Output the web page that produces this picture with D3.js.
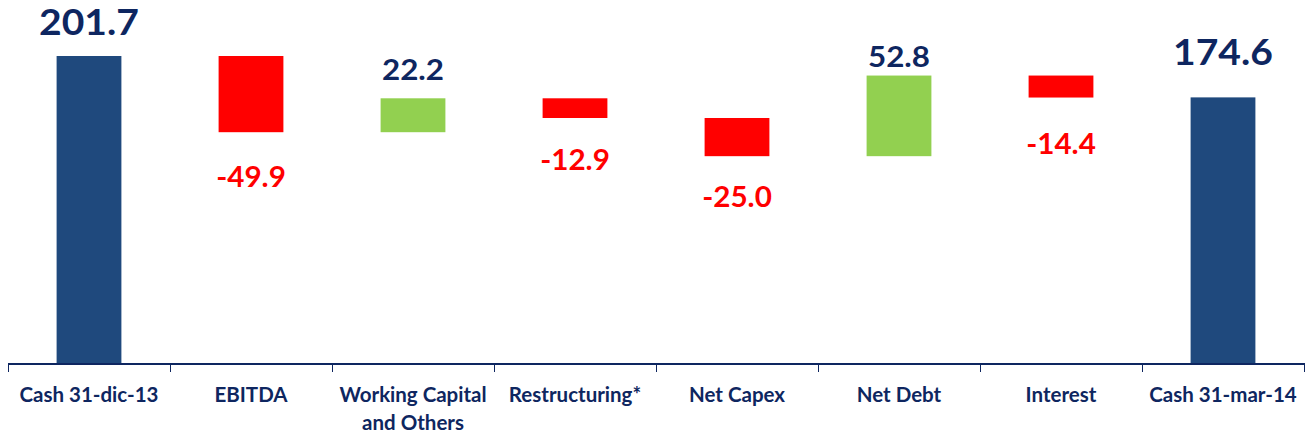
<!DOCTYPE html>
<html>
<head>
<meta charset="utf-8">
<script src="https://cdn.jsdelivr.net/npm/d3@7"></script>
<style>
  body { margin: 0; background: #fff; }
  text { font-family: Lato, "Open Sans", sans-serif; font-weight: bold; }
</style>
</head>
<body>
<div id="chart"></div>
<script>
var categories = ["Cash 31-dic-13", "EBITDA", "Working Capital\nand Others", "Restructuring*", "Net Capex", "Net Debt", "Interest", "Cash 31-mar-14"];
var values = [201.7, -49.9, 22.2, -12.9, -25.0, 52.8, -14.4, 174.6];
var kinds = ["total", "delta", "delta", "delta", "delta", "delta", "delta", "total"];

// layout: gap between bar edge and its value label (px)
var labelGap = [21, 55, 18, 52, 51, 9, 56, 32];

var width = 1305, height = 438;
var navy = "#0e2660";

// build waterfall steps
var running = 0;
var steps = values.map(function (v, i) {
    var s;
    if (kinds[i] === "total") {
        s = { start: 0, end: v };
        running = v;
    } else {
        s = { start: running, end: running + v };
        running += v;
    }
    s.value = v;
    s.kind = kinds[i];
    s.cat = categories[i];
    s.gap = labelGap[i];
    return s;
});

var svg = d3.select("#chart").append("svg").attr("width", width).attr("height", height);

var x = d3.scaleBand().domain(categories).range([8, 1304]).paddingInner(0.6).paddingOuter(0.3);
var y = d3.scaleLinear().domain([0, 201.7]).range([364, 56]);

function fillFor(d) {
    if (d.kind === "total") return "#1f497d";
    return d.value < 0 ? "#ff0000" : "#92d050";
}

// bars
svg.selectAll("rect.bar").data(steps).enter().append("rect")
    .attr("class", "bar")
    .attr("x", function (d) { return x(d.cat); })
    .attr("width", x.bandwidth())
    .attr("y", function (d) { return y(Math.max(d.start, d.end)); })
    .attr("height", function (d) { return Math.abs(y(d.start) - y(d.end)); })
    .attr("fill", fillFor);

// value labels (stretched a bit horizontally like the original font)
svg.selectAll("text.val").data(steps).enter().append("text")
    .attr("class", "val")
    .attr("transform", function (d) {
        var cx = x(d.cat) + x.bandwidth() / 2;
        var by = d.value < 0 ? y(d.end) + d.gap : y(d.end) - d.gap;
        var sx = d.kind === "total" ? 1.1 : (d.value < 0 ? 1.04 : 1.1);
        return "translate(" + cx + "," + by + ") scale(" + sx + ",1)";
    })
    .attr("text-anchor", "middle")
    .attr("font-size", function (d) { return d.kind === "total" ? 35.5 : 28.5; })
    .attr("fill", function (d) { return d.value < 0 ? "#ff0000" : navy; })
    .text(function (d) { return d.value.toFixed(1); });

// x axis with ticks at category boundaries
svg.append("line")
    .attr("x1", 8).attr("x2", 1305).attr("y1", 364).attr("y2", 364)
    .attr("stroke", navy).attr("stroke-width", 2);

var bounds = categories.map(function (c) { return x(c) - x.step() * x.paddingInner() / 2; });
bounds.push(x.range()[1]);
svg.selectAll("line.tick").data(bounds).enter().append("line")
    .attr("class", "tick")
    .attr("x1", function (d) { return Math.round(d) + 0.5; })
    .attr("x2", function (d) { return Math.round(d) + 0.5; })
    .attr("y1", 364).attr("y2", 372)
    .attr("stroke", navy).attr("stroke-width", 1);

// category labels
var cl = svg.selectAll("text.cat").data(categories).enter().append("text")
    .attr("class", "cat")
    .attr("transform", function (d) {
        return "translate(" + (x(d) + x.bandwidth() / 2) + ",402) scale(1.0,1)";
    })
    .attr("text-anchor", "middle")
    .attr("font-size", 20.5)
    .attr("fill", navy);
cl.each(function (d) {
    var t = d3.select(this);
    d.split("\n").forEach(function (line, i) {
        t.append("tspan").attr("x", 0).attr("dy", i === 0 ? 0 : 28).text(line);
    });
});
</script>
</body>
</html>
